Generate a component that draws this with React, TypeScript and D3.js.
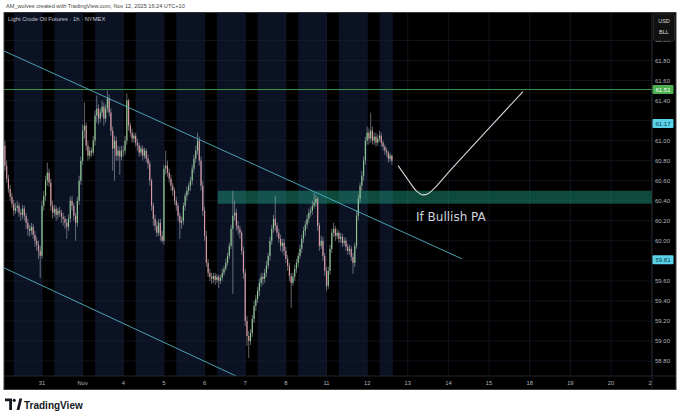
import React from 'react';
import * as d3 from 'd3';

const W = 680;
const H = 417;

// hourly bars, one row per session (23 bars); first row is the tail of Oct 30
const closes = [
  [60.75, 60.62, 60.52, 60.44, 60.37, 60.30, 60.33, 60.35, 60.28, 60.26, 60.32, 60.25, 60.18, 60.12, 60.10, 60.14, 60.06, 60.00, 59.96, 59.90, 59.85],
  [60.35, 60.45, 60.60, 60.68, 60.58, 60.35, 60.28, 60.32, 60.26, 60.30, 60.28, 60.24, 60.22, 60.18, 60.14, 60.22, 60.40, 60.35, 60.25, 60.18, 60.40, 60.60, 60.80],
  [61.10, 61.15, 60.95, 60.85, 60.90, 60.88, 61.00, 61.25, 61.32, 61.22, 61.28, 61.34, 61.22, 61.32, 61.42, 61.28, 61.10, 60.92, 61.00, 60.85, 60.90, 60.84, 60.90],
  [60.90, 61.00, 61.40, 61.15, 61.08, 61.02, 61.05, 60.98, 60.95, 60.88, 60.92, 60.85, 60.90, 60.82, 60.77, 60.60, 60.35, 60.22, 60.15, 60.08, 60.18, 60.05, 60.00],
  [60.72, 60.75, 60.68, 60.62, 60.55, 60.50, 60.40, 60.35, 60.25, 60.18, 60.20, 60.35, 60.45, 60.50, 60.55, 60.60, 60.72, 60.82, 60.90, 61.00, 60.80, 60.55, 60.30],
  [60.05, 59.78, 59.68, 59.64, 59.62, 59.65, 59.61, 59.64, 59.60, 59.63, 59.68, 59.72, 59.78, 59.85, 59.95, 60.12, 60.25, 60.28, 60.15, 60.12, 60.08, 59.90, 59.68],
  [59.20, 59.05, 59.00, 59.08, 59.22, 59.35, 59.42, 59.50, 59.58, 59.64, 59.62, 59.68, 59.75, 59.85, 60.00, 60.12, 60.22, 60.15, 60.08, 60.02, 59.95, 59.98, 59.90],
  [59.82, 59.75, 59.65, 59.58, 59.64, 59.72, 59.78, 59.85, 59.92, 60.02, 60.10, 60.16, 60.22, 60.28, 60.30, 60.35, 60.38, 60.42, 60.15, 59.95, 60.00, 59.85, 59.70],
  [59.55, 59.70, 59.92, 60.08, 60.12, 60.05, 60.08, 60.02, 60.04, 59.98, 60.00, 59.94, 59.90, 59.92, 59.84, 59.78, 59.95, 60.25, 60.42, 60.55, 60.65, 60.80, 61.00],
  [61.08, 61.02, 61.10, 61.00, 61.04, 60.98, 61.02, 61.05, 60.98, 60.94, 60.90, 60.88, 60.82, 60.85, 60.80],
].flat();

const highs = [
  [61.00, 60.80, 60.66, 60.56, 60.48, 60.41, 60.38, 60.40, 60.38, 60.32, 60.36, 60.35, 60.28, 60.22, 60.16, 60.18, 60.17, 60.10, 60.04, 60.00, 59.95],
  [60.40, 60.50, 60.65, 60.78, 60.72, 60.62, 60.40, 60.36, 60.35, 60.33, 60.34, 60.31, 60.28, 60.25, 60.22, 60.26, 60.44, 60.45, 60.38, 60.28, 60.44, 60.65, 60.84],
  [61.16, 61.38, 61.18, 61.00, 60.94, 60.93, 61.05, 61.30, 61.45, 61.36, 61.32, 61.40, 61.38, 61.36, 61.50, 61.46, 61.32, 61.14, 61.05, 61.04, 60.95, 60.94, 60.95],
  [60.95, 61.05, 61.47, 61.42, 61.18, 61.12, 61.08, 61.08, 61.02, 60.98, 60.95, 60.95, 60.93, 60.92, 60.86, 60.80, 60.62, 60.38, 60.26, 60.20, 60.22, 60.22, 60.10],
  [60.76, 60.90, 60.80, 60.72, 60.66, 60.58, 60.53, 60.44, 60.38, 60.28, 60.24, 60.38, 60.48, 60.54, 60.58, 60.64, 60.76, 60.86, 60.95, 61.08, 61.04, 60.84, 60.60],
  [60.34, 60.10, 59.82, 59.72, 59.68, 59.68, 59.68, 59.67, 59.66, 59.66, 59.72, 59.75, 59.82, 59.88, 59.98, 60.16, 60.50, 60.40, 60.32, 60.20, 60.15, 60.10, 59.94],
  [59.72, 59.25, 59.10, 59.12, 59.26, 59.40, 59.46, 59.54, 59.62, 59.68, 59.68, 59.72, 59.80, 59.88, 60.04, 60.16, 60.26, 60.45, 60.18, 60.12, 60.06, 60.02, 60.02],
  [59.94, 59.86, 59.78, 59.68, 59.68, 59.76, 59.82, 59.88, 59.96, 60.06, 60.14, 60.20, 60.26, 60.32, 60.34, 60.40, 60.48, 60.46, 60.44, 60.18, 60.05, 60.04, 59.88],
  [59.74, 59.74, 59.96, 60.12, 60.18, 60.15, 60.12, 60.10, 60.08, 60.07, 60.04, 60.03, 59.97, 59.96, 59.95, 59.88, 59.98, 60.30, 60.46, 60.58, 60.70, 60.84, 61.04],
  [61.14, 61.12, 61.28, 61.14, 61.08, 61.08, 61.06, 61.10, 61.08, 61.00, 60.96, 60.93, 60.90, 60.88, 60.86],
].flat();

const lows = [
  [60.70, 60.58, 60.48, 60.40, 60.33, 60.25, 60.27, 60.29, 60.24, 60.20, 60.22, 60.20, 60.12, 60.05, 60.04, 60.06, 60.02, 59.94, 59.90, 59.82, 59.63],
  [59.82, 60.30, 60.40, 60.55, 60.54, 60.30, 60.22, 60.24, 60.20, 60.22, 60.24, 60.18, 60.15, 60.12, 60.02, 60.10, 60.18, 60.30, 60.20, 60.00, 60.14, 60.36, 60.56],
  [60.76, 61.02, 60.90, 60.80, 60.82, 60.84, 60.85, 60.95, 61.18, 61.16, 61.18, 61.24, 61.15, 61.18, 61.28, 61.24, 61.05, 60.70, 60.60, 60.80, 60.80, 60.66, 60.80],
  [60.84, 60.86, 60.96, 61.10, 61.04, 60.98, 60.98, 60.94, 60.90, 60.84, 60.85, 60.80, 60.82, 60.78, 60.72, 60.55, 60.30, 60.15, 60.10, 60.04, 60.05, 60.00, 59.98],
  [59.96, 60.66, 60.64, 60.58, 60.50, 60.45, 60.36, 60.30, 60.20, 60.02, 60.12, 60.16, 60.30, 60.40, 60.46, 60.50, 60.56, 60.68, 60.78, 60.86, 60.75, 60.50, 60.25],
  [60.00, 59.74, 59.64, 59.60, 59.57, 59.58, 59.56, 59.58, 59.53, 59.57, 59.60, 59.65, 59.70, 59.75, 59.82, 59.92, 59.47, 60.20, 60.10, 60.06, 60.02, 59.86, 59.62],
  [59.15, 58.95, 58.83, 58.96, 59.04, 59.18, 59.30, 59.38, 59.45, 59.54, 59.56, 59.58, 59.64, 59.72, 59.80, 59.96, 60.08, 60.10, 60.04, 59.98, 59.90, 59.88, 59.85],
  [59.78, 59.70, 59.60, 59.33, 59.55, 59.60, 59.68, 59.74, 59.82, 59.88, 59.98, 60.05, 60.12, 60.18, 60.24, 60.26, 60.32, 60.34, 60.10, 59.90, 59.92, 59.80, 59.65],
  [59.50, 59.52, 59.66, 59.88, 60.04, 60.00, 60.02, 59.98, 59.98, 59.94, 59.95, 59.90, 59.86, 59.86, 59.80, 59.67, 59.74, 59.92, 60.20, 60.38, 60.50, 60.60, 60.76],
  [60.96, 60.96, 60.98, 60.96, 60.96, 60.94, 60.95, 60.99, 60.94, 60.90, 60.86, 60.84, 60.78, 60.79, 60.76],
].flat();

const firstOpen = 60.95;
const firstBarHour = -21; // hours relative to the "31" session start
const sessionHours = 23;
const offHours = 7;

const dayLabels = ['31', 'Nov', '4', '5', '6', '7', '8', '11', '12', '13', '14', '15', '18', '19', '20', '21'];
const priceTicks = [58.8, 59.0, 59.2, 59.4, 59.6, 59.8, 60.0, 60.2, 60.4, 60.6, 60.8, 61.0, 61.2, 61.4, 61.6, 61.8, 62.0];

const levelPrice = 61.51;
const cyanLabels = [61.17, 59.81];
const zonePrices = [60.37, 60.5];
const zoneStartHour = 99.5;
const upperChannel: [number, number][] = [[-21.5, 61.895], [237.7, 59.82]];
const lowerChannel: [number, number][] = [[-21.5, 59.73], [122, 58.55]];
const projection: [number, number][] = [
  [201.5, 60.75], [207.1, 60.61], [211.7, 60.5], [215.0, 60.46], [218.4, 60.47],
  [222.9, 60.54], [230.9, 60.70], [272.2, 61.49],
];

const plot = { left: 4, right: 652, top: 12.5, bottom: 376 };

const App: React.FC = () => {
  const x = d3.scaleLinear().domain([0, 14 * sessionHours]).range([42, 611]);
  const y = d3.scaleLinear().domain([58.8, 61.8]).range([361, 60.5]);

  const bars = closes.map((c, i) => ({
    t: firstBarHour + i,
    o: i === 0 ? firstOpen : closes[i - 1],
    h: highs[i],
    l: lows[i],
    c,
  }));
  const lastT = bars[bars.length - 1].t;

  const sessions = d3.range(-1, Math.floor(lastT / sessionHours) + 1).map(k => ({
    x0: x(k * sessionHours + offHours),
    x1: Math.min(x((k + 1) * sessionHours), x(lastT + 0.5)),
  }));

  const line = d3.line<[number, number]>().x(d => x(d[0])).y(d => y(d[1]));
  const curve = d3.line<[number, number]>().x(d => x(d[0])).y(d => y(d[1])).curve(d3.curveCatmullRom.alpha(0.5));

  // tick labels hidden where a price box sits on top of them
  const boxed = [levelPrice, ...cyanLabels];
  const visibleTicks = priceTicks.filter(p => boxed.every(b => Math.abs(y(p) - y(b)) > 8));

  const bodyW = 1.15;
  const upColor = '#8cca90';
  const downColor = '#dc9aa4';
  const cyan = '#5ad2e8';
  const axisText = '#b2b5be';

  const labelBox = (v: number, fill: string, text: string) => (
    <g key={v}>
      <rect x={plot.right + 0.5} y={y(v) - 4.5} width={21} height={9} rx={1} fill={fill} />
      <text x={plot.right + 11} y={y(v) + 2.1} textAnchor="middle" fontSize={6} fill={text}
        fontFamily="Liberation Sans, Arial, sans-serif">{v.toFixed(2)}</text>
    </g>
  );

  return (
    <div style={{ position: 'absolute', left: 0, top: 0 }}>
      <svg width={W} height={H} style={{ display: 'block', background: '#fff' }}>
        <defs>
          <clipPath id="plotClip">
            <rect x={plot.left} y={plot.top} width={plot.right - plot.left} height={plot.bottom - plot.top} />
          </clipPath>
          <clipPath id="timeClip">
            <rect x={plot.left} y={plot.bottom} width={plot.right - plot.left} height={16} />
          </clipPath>
        </defs>

        <text x={6} y={8} fontSize={5.6} fill="#444" fontFamily="Liberation Sans, Arial, sans-serif">
          AM_wolves created with TradingView.com, Nov 12, 2025 16:24 UTC+10
        </text>

        {/* frame */}
        <rect x={4} y={12.5} width={672} height={377} fill="#000" stroke="#3d3d3d" strokeWidth={1} />

        <g clipPath="url(#plotClip)">
          {sessions.map((s, i) => (
            <rect key={i} x={s.x0} y={plot.top} width={Math.max(0, s.x1 - s.x0)} height={plot.bottom - plot.top} fill="#0b1224" />
          ))}
          {priceTicks.map(p => (
            <line key={p} x1={plot.left} x2={plot.right} y1={y(p)} y2={y(p)} stroke="#1c2030" strokeWidth={0.6} />
          ))}
          {dayLabels.map((d, k) => (
            <line key={d + k} x1={x(k * sessionHours)} x2={x(k * sessionHours)} y1={plot.top} y2={plot.bottom} stroke="#1c2030" strokeWidth={0.6} />
          ))}

          {/* zone */}
          <rect x={x(zoneStartHour)} y={y(zonePrices[1])} width={plot.right - x(zoneStartHour)}
            height={y(zonePrices[0]) - y(zonePrices[1])} fill="#1fa383" opacity={0.45} />

          {/* candles */}
          {bars.map(b => (
            <g key={b.t}>
              <line x1={x(b.t)} x2={x(b.t)} y1={y(b.h)} y2={y(b.l)} stroke="#a3a8b0" strokeWidth={0.6} />
              <rect x={x(b.t) - bodyW / 2} y={y(Math.max(b.o, b.c))} width={bodyW}
                height={Math.max(0.6, Math.abs(y(b.o) - y(b.c)))} fill={b.c >= b.o ? upColor : downColor} />
            </g>
          ))}

          <line x1={plot.left} x2={plot.right} y1={y(levelPrice)} y2={y(levelPrice)} stroke="#46a84d" strokeWidth={0.9} />
          <path d={line(upperChannel) || ''} fill="none" stroke="#4fb3c2" strokeWidth={0.9} />
          <path d={line(lowerChannel) || ''} fill="none" stroke="#4fb3c2" strokeWidth={0.9} />
          <path d={curve(projection) || ''} fill="none" stroke="#d6d6d6" strokeWidth={1.1} />

          <text x={416} y={y(60.2)} fontSize={12} fill="#d1d4dc" fontFamily="DejaVu Sans, sans-serif">If Bullish PA</text>

          <text x={8} y={21} fontSize={5.8} fill="#c3c6ce" fontFamily="Liberation Sans, Arial, sans-serif">
            Light Crude Oil Futures · 1h · NYMEX
          </text>
        </g>

        {/* axes separators */}
        <line x1={plot.right} x2={plot.right} y1={12.5} y2={389.5} stroke="#2a2e39" strokeWidth={0.8} />
        <line x1={4} x2={676} y1={plot.bottom} y2={plot.bottom} stroke="#2a2e39" strokeWidth={0.8} />

        {/* time axis */}
        <g clipPath="url(#timeClip)">
          {dayLabels.map((d, k) => (
            <text key={d + k} x={x(k * sessionHours)} y={385} textAnchor="middle" fontSize={5.8} fill={axisText}
              fontFamily="Liberation Sans, Arial, sans-serif">{d}</text>
          ))}
        </g>

        {/* price axis */}
        {visibleTicks.map(p => (
          <text key={p} x={655} y={y(p) + 2} fontSize={6} fill={axisText}
            fontFamily="Liberation Sans, Arial, sans-serif">{p.toFixed(2)}</text>
        ))}
        {labelBox(levelPrice, '#4caf50', '#ffffff')}
        {cyanLabels.map(v => labelBox(v, cyan, '#0b3a48'))}

        <rect x={653.5} y={14} width={21} height={27} rx={2} fill="#111" stroke="#3a3a3a" strokeWidth={0.6} />
        <text x={664} y={22.5} textAnchor="middle" fontSize={5.5} fill="#ddd" fontFamily="Liberation Sans, Arial, sans-serif">USD</text>
        <text x={664} y={34} textAnchor="middle" fontSize={5.5} fill="#ddd" fontFamily="Liberation Sans, Arial, sans-serif">BLL</text>

        {/* TradingView logo */}
        <g fill="#131722">
          <path d="M5 398.5 H12 V410 H9.2 V401.2 H5 Z" />
          <circle cx={14.2} cy={400.3} r={1.6} />
          <path d="M16.6 410 L19.4 398.5 H22.2 L19.4 410 Z" />
        </g>
        <text x={24} y={408.5} fontSize={10} fontWeight={600} fill="#131722" fontFamily="Liberation Sans, Arial, sans-serif">TradingView</text>
      </svg>
    </div>
  );
};

export default App;
